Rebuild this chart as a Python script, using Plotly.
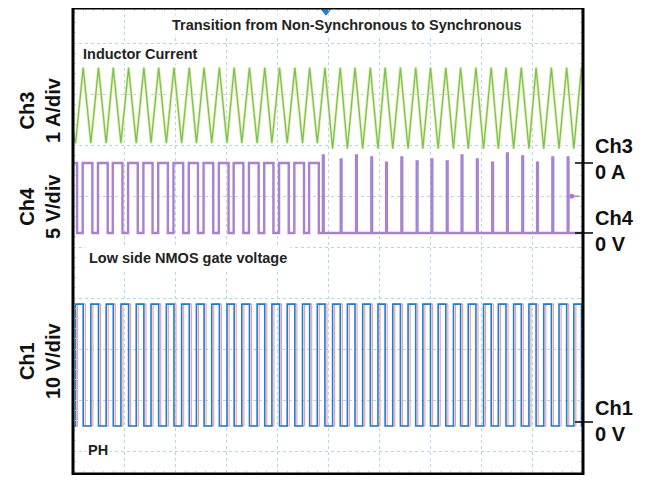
import plotly.graph_objects as go

# ---------------- data (time in divisions, 0..10) ----------------
# Inductor current (Ch3, A): peaks and valleys
il_peak_t = [0.20, 0.50, 0.79, 1.09, 1.39, 1.68, 1.98, 2.28, 2.57, 2.87, 3.16, 3.46, 3.76, 4.05,
             4.35, 4.64, 4.94, 5.24, 5.53, 5.83, 6.12, 6.42, 6.72, 7.01, 7.31, 7.60, 7.90, 8.20,
             8.49, 8.79, 9.08, 9.38, 9.68, 9.97]
il_peak_a = [1.87] * 34
il_valley_t = [0.05, 0.35, 0.65, 0.94, 1.24, 1.53, 1.83, 2.13, 2.42, 2.72, 3.02, 3.31, 3.61, 3.90,
               4.20, 4.50, 4.79, 5.09, 5.38, 5.68, 5.98, 6.27, 6.57, 6.86, 7.16, 7.46, 7.75, 8.05,
               8.34, 8.64, 8.94, 9.23, 9.53, 9.82]
il_valley_a = [0.39] * 17 + [0.28] * 17
il_start = (0.0, 0.62)

# PH (Ch1, V): rises at valleys, falls at peaks
ph_rise_t = il_valley_t
ph_fall_t = il_peak_t
ph_high_v = 23.1
ph_low_v = -0.8

# Low side gate (Ch4, V): full switching in first half
gate_rise_t = [0.19, 0.49, 0.78, 1.08, 1.38, 1.67, 1.97, 2.27, 2.56, 2.86, 3.15, 3.45, 3.75,
               4.04, 4.34, 4.63]
gate_fall_t = [0.38, 0.68, 0.97, 1.27, 1.56, 1.86, 2.16, 2.45, 2.75, 3.05, 3.34, 3.64, 3.93,
               4.23, 4.53, 4.82]
gate_high_v = 6.86
gate_first_fall_t = 0.08
# narrow refresh pulses in second half
spike_t = [4.90, 5.25, 5.55, 5.85, 6.14, 6.44, 6.74, 7.03, 7.33, 7.62, 7.92, 8.22, 8.51, 8.81,
           9.10, 9.40, 9.70]
spike_v = [7.6, 7.2, 7.6, 7.4, 6.9, 7.4, 7.0, 7.2, 7.0, 7.6, 7.2, 6.9, 7.8, 7.5, 6.9, 7.4, 7.4]
spike_w = 0.015
trig_level_v = 3.6
trigger_t = 4.96

# channel settings: zero position (div) and scale (units/div)
ch3_zero, ch3_scale = 1.647, 1.0
ch4_zero, ch4_scale = 0.275, 5.0
ch1_zero, ch1_scale = -3.431, 10.0

# ---------------- build traces ----------------
def to_div(vals, zero, scale):
    return [zero + v / scale for v in vals]

il_t = [il_start[0]]
il_a = [il_start[1]]
for i in range(len(il_peak_t)):
    il_t += [il_valley_t[i], il_peak_t[i]]
    il_a += [il_valley_a[i], il_peak_a[i]]

ph_t, ph_v = [0.0], [ph_low_v]
for r, f in zip(ph_rise_t, ph_fall_t):
    ph_t += [r, r, f, f]
    ph_v += [ph_low_v, ph_high_v, ph_high_v, ph_low_v]
ph_t.append(10.0)
ph_v.append(ph_low_v)

g_t, g_v = [0.0, gate_first_fall_t, gate_first_fall_t], [gate_high_v, gate_high_v, 0.0]
for r, f in zip(gate_rise_t, gate_fall_t):
    g_t += [r, r, f, f]
    g_v += [0.0, gate_high_v, gate_high_v, 0.0]
for s, v in zip(spike_t, spike_v):
    g_t += [s, s, s + spike_w, s + spike_w]
    g_v += [0.0, v, v, 0.0]
g_t.append(10.0)
g_v.append(0.0)

fig = go.Figure()

fig.add_trace(go.Scatter(x=il_t, y=to_div(il_a, ch3_zero, ch3_scale), mode="lines",
                         line=dict(color="#e9eeae", width=3.0), hoverinfo="skip"))
fig.add_trace(go.Scatter(x=il_t, y=to_div(il_a, ch3_zero, ch3_scale), mode="lines",
                         line=dict(color="#78c25e", width=1.3), hoverinfo="skip"))

fig.add_trace(go.Scatter(x=g_t, y=to_div(g_v, ch4_zero, ch4_scale), mode="lines",
                         line=dict(color="#b878c6", width=2.4), hoverinfo="skip"))
fig.add_trace(go.Scatter(x=g_t, y=to_div(g_v, ch4_zero, ch4_scale), mode="lines",
                         line=dict(color="#8a96de", width=0.7), hoverinfo="skip"))

fig.add_trace(go.Scatter(x=[t + 0.04 for t in ph_t], y=to_div(ph_v, ch1_zero, ch1_scale),
                         mode="lines", line=dict(color="#f29aa8", width=1.1), hoverinfo="skip"))
fig.add_trace(go.Scatter(x=ph_t, y=to_div(ph_v, ch1_zero, ch1_scale), mode="lines",
                         line=dict(color="#1f7dcc", width=1.6), hoverinfo="skip"))

fig.add_trace(go.Scatter(x=[9.78, 9.93], y=to_div([trig_level_v] * 2, ch4_zero, ch4_scale),
                         mode="lines", line=dict(color="#b878c6", width=1.5), hoverinfo="skip"))
fig.add_trace(go.Scatter(x=[9.78], y=to_div([trig_level_v], ch4_zero, ch4_scale),
                         mode="markers", marker=dict(color="#b878c6", size=5), hoverinfo="skip"))
fig.add_trace(go.Scatter(x=[trigger_t], y=[4.62], mode="markers", cliponaxis=False,
                         marker=dict(symbol="triangle-down", color="#2a7ccc", size=9),
                         hoverinfo="skip"))

# ---------------- layout ----------------
# page has an 8px body margin; plot area spans page x 73..583, y 8..474
W, H = 629, 467
L, R, T, B = 65, 54, 0, 1
PX0, PX1, PY0, PY1 = 73, 583, 8, 474

def px(x):
    return (x - PX0) / (PX1 - PX0)

def py(y):
    return (PY1 - y) / (PY1 - PY0)

font_b = "Liberation Sans, Arial, sans-serif"
fs_in = 14.5

annotations = [
    dict(text="<b>Transition from Non-Synchronous to Synchronous</b>", x=px(347), y=py(25),
         xanchor="center", yanchor="middle", font=dict(size=fs_in, color="#222"), bgcolor="white"),
    dict(text="<b>Inductor Current</b>", x=px(81), y=py(54), xanchor="left", yanchor="middle",
         font=dict(size=fs_in, color="#222"), bgcolor="white"),
    dict(text="<b>Low side NMOS gate voltage</b>", x=px(85), y=py(258), xanchor="left",
         yanchor="middle", font=dict(size=fs_in, color="#222"), bgcolor="white", borderpad=3),
    dict(text="<b>PH</b>", x=px(86), y=py(450), xanchor="left", yanchor="middle",
         font=dict(size=fs_in, color="#222"), bgcolor="white"),
    dict(text="<b>Ch3<br>1 A/div</b>", x=px(40), y=py(110), textangle=-90, xanchor="center",
         yanchor="middle", font=dict(size=20, color="#111")),
    dict(text="<b>Ch4<br>5 V/div</b>", x=px(40), y=py(207), textangle=-90, xanchor="center",
         yanchor="middle", font=dict(size=20, color="#111")),
    dict(text="<b>Ch1<br>10 V/div</b>", x=px(40), y=py(361), textangle=-90, xanchor="center",
         yanchor="middle", font=dict(size=20, color="#111")),
    dict(text="<b>Ch3<br>0 A</b>", x=px(593), y=py(159), xanchor="left", yanchor="middle",
         align="left", font=dict(size=20, color="#111")),
    dict(text="<b>Ch4<br>0 V</b>", x=px(593), y=py(231), xanchor="left", yanchor="middle",
         align="left", font=dict(size=20, color="#111")),
    dict(text="<b>Ch1<br>0 V</b>", x=px(593), y=py(421), xanchor="left", yanchor="middle",
         align="left", font=dict(size=20, color="#111")),
]
for a in annotations:
    a.update(xref="paper", yref="paper", showarrow=False)
    a["font"]["family"] = font_b

shapes = [
    dict(type="rect", xref="paper", yref="paper", x0=0, x1=1, y0=0, y1=1,
         line=dict(color="black", width=3), layer="above"),
]
for z in (ch3_zero, ch4_zero, ch1_zero):
    shapes.append(dict(type="line", xref="paper", yref="y", x0=px(575), x1=px(593), y0=z, y1=z,
                       line=dict(color="black", width=1.5), layer="above"))

grid_c = "#b3d6ec"
fig.update_layout(
    width=W, height=H, margin=dict(l=L, r=R, t=T, b=B, pad=0),
    paper_bgcolor="white", plot_bgcolor="white", showlegend=False,
    annotations=annotations, shapes=shapes,
    xaxis=dict(range=[0, 10], dtick=1, tick0=0, showgrid=True, gridcolor=grid_c,
               griddash="dot", gridwidth=1, showticklabels=False, zeroline=False,
               showline=False, ticks="inside", ticklen=3, tickcolor=grid_c, mirror="ticks",
               minor=dict(dtick=0.2, ticks="inside", ticklen=3, tickcolor=grid_c)),
    yaxis=dict(range=[(247 - 474) / 51, (247 - 8) / 51], dtick=1, tick0=0, showgrid=True,
               gridcolor=grid_c, griddash="dot", gridwidth=1, showticklabels=False,
               zeroline=False, showline=False, ticks="inside", ticklen=3, tickcolor=grid_c,
               mirror="ticks",
               minor=dict(dtick=0.2, ticks="inside", ticklen=3, tickcolor=grid_c)),
)

fig.write_html("out.html")
